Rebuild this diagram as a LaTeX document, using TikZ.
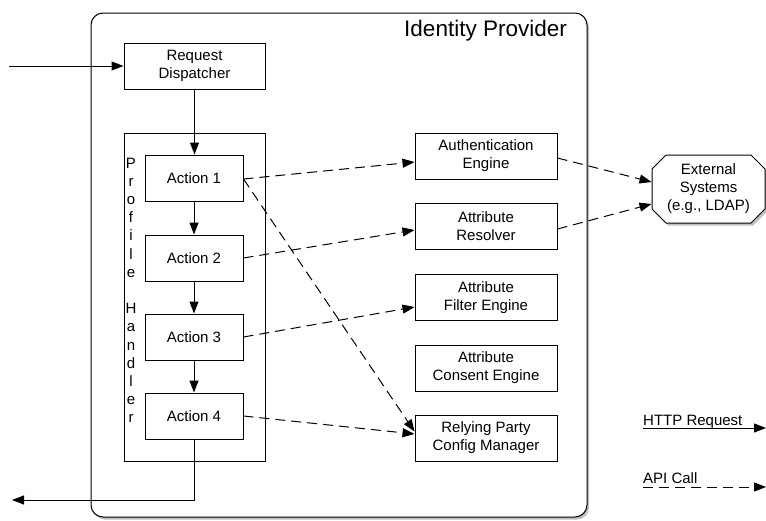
\documentclass[tikz,border=0pt]{standalone}
\usepackage{fontspec}
\setmainfont{Liberation Sans}
\usetikzlibrary{arrows.meta,shadows,shapes.misc}
\begin{document}
\begin{tikzpicture}[x=1pt,y=-1pt,
 tipped/.style={-{Triangle[length=12pt,width=9pt]}},
 conn/.style={line width=1pt, tipped},
 api/.style={conn, dash pattern=on 10pt off 6pt},
 box/.style={draw, line width=1pt, inner sep=0pt, align=center, fill=white,
   font=\fontsize{15}{18}\selectfont, minimum width=142pt, minimum height=46pt},
 act/.style={box, minimum width=98pt},
 lbl/.style={font=\fontsize{15}{18}\selectfont, inner sep=0pt},
 shade/.style={drop shadow={opacity=0.5, shadow xshift=2pt, shadow yshift=-2.5pt}},
]
\useasboundingbox (0,0) rectangle (766,520);

% Identity Provider container
\node (idp) [draw, line width=1pt, rounded corners=12pt, fill=white, shade,
  minimum width=496pt, minimum height=504pt, inner sep=0pt] at (339,265) {};
\node (title) [font=\fontsize{22.5}{26}\selectfont, inner sep=0pt, anchor=base east]
  at (567,36) {Identity Provider};

% Left column
\node (rd) [box, minimum width=141pt] at (194.5,66) {Request\\Dispatcher};
\node (ph) [box, minimum width=141pt, minimum height=328pt] at (194.5,297) {};
\foreach \ch/\k in {P/0,r/1,o/2,f/3,i/4,l/5,e/6,H/8,a/9,n/10,d/11,l/12,e/13,r/14}
  \node (ph\k) [lbl, anchor=base] at (131,{168+18.2*\k}) {\ch};

\node (a1) [act] at (194,178) {Action 1};
\node (a2) [act] at (194,258) {Action 2};
\node (a3) [act] at (194,337) {Action 3};
\node (a4) [act] at (194,416) {Action 4};

% Right column
\node (auth) [box] at (486,156) {Authentication\\Engine};
\node (res)  [box] at (486,226.5) {Attribute\\Resolver};
\node (filt) [box] at (486,297.5) {Attribute\\Filter Engine};
\node (cons) [box] at (486,368) {Attribute\\Consent Engine};
\node (rp)   [box] at (486,438) {Relying Party\\Config Manager};

% External systems
\node (ext) [draw, line width=1pt, chamfered rectangle, chamfered rectangle xsep=7pt,
  chamfered rectangle ysep=7pt, fill=white, shade, inner sep=0pt,
  minimum width=113pt, minimum height=68pt, align=center,
  font=\fontsize{15}{18}\selectfont] at (708.5,189) {External\\Systems\\(e.g., LDAP)};

% Solid connectors
\coordinate (in) at (9,66);
\coordinate (out) at (12,500);
\draw[conn] (in) -- (rd.west);
\draw[conn] (rd.south) -- (rd.south |- a1.north);
\draw[conn] (a1.south) -- (a2.north);
\draw[conn] (a2.south) -- (a3.north);
\draw[conn] (a3.south) -- (a4.north);
\draw[conn] (a4.south) |- (out);

% API calls
\draw[api] ([yshift=-1pt]a1.east) -- ([yshift=-6pt]auth.west);
\draw[api] ([yshift=-1pt]a1.east) -- ([yshift=6.5pt]rp.west);
\draw[api] (a2.east) -- ([yshift=-3.5pt]res.west);
\draw[api] (a3.east) -- ([yshift=-9.5pt]filt.west);
\draw[api] (a4.east) -- ([yshift=4pt]rp.west);
\draw[api] ([yshift=-2pt]auth.east) -- ([yshift=7pt]ext.west);
\draw[api] ([yshift=-2.5pt]res.east) -- ([yshift=-15pt]ext.west);

% Legend
\coordinate (h1) at (643,428);
\coordinate (h2) at (766,428);
\coordinate (c1) at (643,487);
\coordinate (c2) at (766,487);
\node (httplbl) [lbl, anchor=base west] at (643,425.5) {HTTP Request};
\node (apilbl) [lbl, anchor=base west] at (643,483) {API Call};
\draw[conn] (h1) -- (h2);
\draw[api] (c1) -- (c2);
\end{tikzpicture}
\end{document}
